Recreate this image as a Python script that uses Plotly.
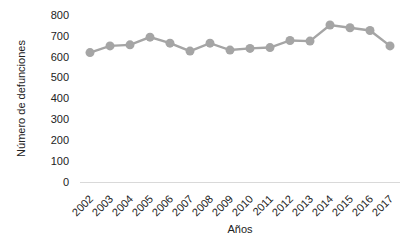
import plotly.graph_objects as go

years = [str(y) for y in range(2002, 2018)]
deaths = [620, 652, 657, 694, 665, 627, 665, 632, 640, 644, 678, 675, 752, 739, 726, 652]

fig = go.Figure(go.Scatter(
    x=years, y=deaths, mode="lines+markers",
    line=dict(color="#a5a5a5", width=2.4),
    marker=dict(color="#a5a5a5", size=9),
))
# page body has an 8px default margin; compensate so the plot lands where the reference has it
fig.update_layout(
    width=405, height=234,
    margin=dict(l=72, r=13, t=7, b=60),
    paper_bgcolor="white", plot_bgcolor="white",
    font=dict(family="Liberation Sans, Arial, sans-serif", size=11, color="#222"),
    showlegend=False,
)
fig.update_xaxes(type="category", range=[-0.5, len(years) - 0.5], tickangle=-45,
                 showgrid=False, showline=True, ticklabelstandoff=5,
                 linecolor="#d9d9d9", linewidth=1, ticks="", automargin=False,
                 title=dict(text="Años", standoff=7, font=dict(size=11)))
fig.update_yaxes(range=[0, 800], dtick=100, showgrid=False, zeroline=False,
                 showline=False, ticks="", ticklabelstandoff=10, automargin=False,
                 title=dict(text="Número de defunciones", standoff=22, font=dict(size=11)))
fig.write_html("out.html")
